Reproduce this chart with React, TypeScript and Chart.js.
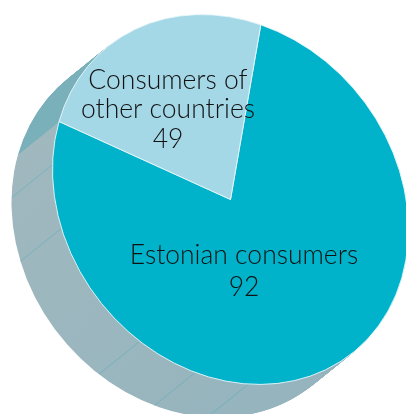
import React, { useEffect, useRef } from "react";
import { Chart, registerables } from "chart.js";

Chart.register(...registerables);

const categories = ["Estonian consumers", "Consumers of other countries"];
const values = [92, 49];
const sliceColors = ["#00B3CA", "#A4D8E7"];
const wallColors = ["#9BB7BE", "#7AB0BA"];
const labelLines = [["Estonian consumers"], ["Consumers of", "other countries"]];
const labelCentres = [[244, 255], [168, 80]];
const labelLineHeights = [32, 29.5];
const facetAngles = [84.2, 101.4, 120.6, 161.7, 181.5];

const FONT = '300 26.5px Lato, "Open Sans", sans-serif';
// The reference is a tilted pseudo-3D pie: disc centre, ellipse matrix, extrusion.
const DISC = { x: 230.5, y: 199.5, a: 178, b: 30, d: 182.5 };
const DEPTH = { x: -41, y: 33, steps: 70 };
const FIRST_ANGLE = -80.2;
const FAR_SLICE_FORESHORTEN = 0.673;

const DEG = Math.PI / 180;

function applyDisc(ctx: CanvasRenderingContext2D, arc: any, dx = 0, dy = 0) {
  const r = arc.outerRadius;
  ctx.translate(DISC.x + dx, DISC.y + dy);
  ctx.transform(DISC.a / r, DISC.b / r, 0, DISC.d / r, 0, 0);
  ctx.translate(-arc.x, -arc.y);
}

const pie3d = {
  id: "pie3d",
  beforeDatasetsDraw(chart: any) {
    const ctx: CanvasRenderingContext2D = chart.ctx;
    const arcs = chart.getDatasetMeta(0).data;
    const total = values[0] + values[1];
    const farSweep = (values[1] / total) * 360 * FAR_SLICE_FORESHORTEN;
    const sweeps = [360 - farSweep, farSweep];
    let start = FIRST_ANGLE * DEG;
    arcs.forEach((arc: any, i: number) => {
      arc.startAngle = start;
      arc.circumference = sweeps[i] * DEG;
      arc.endAngle = start + arc.circumference;
      start = arc.endAngle;
    });

    const grad = ctx.createLinearGradient(10, 150, 300, 414);
    grad.addColorStop(0, "#A0B8BE");
    grad.addColorStop(1, "#95B4BE");

    for (let s = DEPTH.steps; s >= 1; s--) {
      const dx = (DEPTH.x * s) / DEPTH.steps;
      const dy = (DEPTH.y * s) / DEPTH.steps;
      arcs.forEach((arc: any, i: number) => {
        ctx.save();
        applyDisc(ctx, arc, dx, dy);
        ctx.beginPath();
        ctx.moveTo(arc.x, arc.y);
        ctx.arc(arc.x, arc.y, arc.outerRadius, arc.startAngle, arc.endAngle);
        ctx.closePath();
        ctx.restore();
        ctx.fillStyle = i === 0 ? grad : wallColors[1];
        ctx.fill();
      });
    }

    ctx.save();
    ctx.strokeStyle = "rgba(60,170,185,0.7)";
    ctx.lineWidth = 0.6;
    facetAngles.forEach((deg) => {
      const ux = Math.cos(deg * DEG);
      const uy = Math.sin(deg * DEG);
      const px = DISC.x + DISC.a * ux;
      const py = DISC.y + DISC.b * ux + DISC.d * uy;
      ctx.beginPath();
      ctx.moveTo(px, py);
      ctx.lineTo(px + DEPTH.x, py + DEPTH.y);
      ctx.stroke();
    });
    ctx.restore();

    ctx.save();
    applyDisc(ctx, arcs[0]);
  },
  afterDatasetsDraw(chart: any) {
    const ctx: CanvasRenderingContext2D = chart.ctx;
    ctx.restore();
    ctx.save();
    ctx.font = FONT;
    ctx.fillStyle = "#111";
    ctx.textAlign = "center";
    ctx.textBaseline = "middle";
    labelLines.forEach((lines, i) => {
      const all = [...lines, String(values[i])];
      all.forEach((t, k) => {
        ctx.fillText(t, labelCentres[i][0], labelCentres[i][1] + k * labelLineHeights[i]);
      });
    });
    ctx.restore();
  },
};

export default function App() {
  const ref = useRef<HTMLCanvasElement>(null);
  useEffect(() => {
    document.body.style.margin = "0";
    const chart = new Chart(ref.current!, {
      type: "pie",
      data: {
        labels: categories,
        datasets: [
          {
            data: values,
            backgroundColor: sliceColors,
            borderColor: "#E8F6FA",
            borderWidth: 1,
            clip: false,
          } as any,
        ],
      },
      options: {
        responsive: false,
        animation: false,
        events: [],
        plugins: { legend: { display: false }, tooltip: { enabled: false } },
      },
      plugins: [pie3d],
    });
    return () => chart.destroy();
  }, []);
  return <canvas ref={ref} width={406} height={414} style={{ display: "block" }} />;
}
